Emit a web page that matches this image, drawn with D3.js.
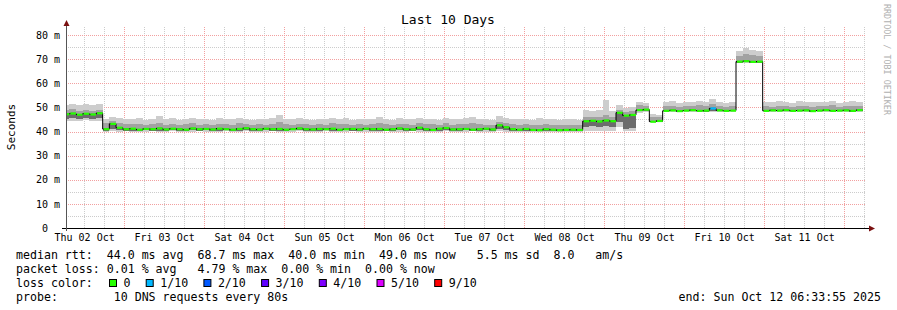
<!DOCTYPE html>
<html>
<head>
<meta charset="utf-8">
<script src="https://cdn.jsdelivr.net/npm/d3@7"></script>
<style>
  body { margin: 0; background: #fff; }
  text { font-family: "DejaVu Sans Mono", monospace; fill: #000; }
</style>
</head>
<body>
<div id="chart"></div>
<script>

// smokeping "Last 10 Days" graph, redrawn with d3

// ---- data ----
const startTime = Date.UTC(2025, 9, 2, 6, 33, 55);
const endTime = Date.UTC(2025, 9, 12, 6, 33, 55);
const bucketHours = 2;          // one value per 2 hours
const firstBucketOffset = -1;   // first bucket starts 1h before the graph

const dayLabels = ["Thu 02 Oct", "Fri 03 Oct", "Sat 04 Oct", "Sun 05 Oct", "Mon 06 Oct",
                   "Tue 07 Oct", "Wed 08 Oct", "Thu 09 Oct", "Fri 10 Oct", "Sat 11 Oct"];
const yTicks = [0, 10, 20, 30, 40, 50, 60, 70, 80];
const yTickLabels = ["0\u00a0\u00a0", "10 m", "20 m", "30 m", "40 m", "50 m", "60 m", "70 m", "80 m"];

// median rtt in ms
const median = [
  47.2, 47.5, 47.0, 47.4, 47.1, 47.6, 41.0, 43.2, 41.6, 41.0,
  41.2, 40.8, 41.1, 41.0, 41.3, 40.9, 41.2, 41.0, 40.8, 41.3,
  41.0, 41.1, 40.9, 41.2, 41.0, 40.8, 41.1, 41.4, 41.0, 40.9,
  41.2, 41.0, 41.1, 40.8, 41.0, 41.3, 41.0, 40.9, 41.1, 41.0,
  41.2, 40.8, 41.0, 41.1, 40.9, 41.2, 41.0, 41.1, 40.8, 41.0,
  41.3, 41.0, 40.9, 41.6, 41.0, 40.7, 41.2, 41.5, 40.9, 41.0,
  41.1, 40.8, 41.0, 41.2, 40.9, 42.6, 41.8, 41.0, 40.8, 41.1,
  40.7, 40.6, 41.0, 40.8, 40.6, 40.7, 40.8, 40.7, 44.3, 44.5,
  44.2, 44.6, 44.3, 47.8, 46.6, 46.9, 48.9, 49.1, 44.1, 44.4,
  48.6, 48.8, 48.5, 48.7, 48.9, 48.6, 48.7, 49.6, 48.8, 48.6,
  48.7, 69.0, 69.2, 68.9, 69.0, 48.6, 48.8, 48.7, 48.9, 48.6,
  48.7, 48.8, 48.5, 48.7, 48.9, 48.6, 48.7, 48.8, 48.6, 48.9
];

// smoke: lowest ping, inner low, inner high, highest ping
const smokeMin = [
  44.2, 44.5, 44.3, 44.6, 44.4, 44.5, 40.0, 40.3, 40.0, 40.1,
  39.9, 40.0, 40.0, 40.2, 39.9, 40.0, 40.1, 40.0, 39.8, 40.0,
  40.1, 40.0, 39.9, 40.0, 40.2, 40.0, 40.0, 40.1, 39.9, 40.0,
  40.0, 40.1, 40.0, 39.8, 40.0, 40.2, 40.0, 39.9, 40.0, 40.1,
  40.0, 39.9, 40.0, 40.1, 40.0, 40.0, 39.8, 40.0, 40.1, 40.0,
  39.9, 40.0, 40.1, 40.0, 40.0, 39.8, 40.0, 40.2, 40.0, 39.9,
  40.0, 40.1, 40.0, 40.0, 39.9, 40.1, 40.0, 40.0, 39.8, 40.0,
  39.9, 39.8, 40.0, 39.9, 39.8, 39.9, 40.0, 39.9, 40.2, 40.3,
  40.2, 40.3, 40.2, 42.0, 40.2, 40.3, 47.8, 47.9, 43.8, 44.0,
  48.0, 48.1, 47.9, 48.0, 48.2, 48.0, 47.9, 48.1, 48.0, 48.0,
  48.1, 68.3, 68.5, 68.2, 68.4, 48.0, 48.1, 47.9, 48.0, 48.2,
  48.0, 47.9, 48.1, 48.0, 48.0, 48.2, 47.9, 48.0, 48.1, 48.0
];
const smokeLo = [
  45.3, 45.6, 45.2, 45.5, 45.3, 45.6, 40.3, 41.0, 40.5, 40.4,
  40.3, 40.4, 40.5, 40.4, 40.3, 40.4, 40.6, 40.4, 40.3, 40.5,
  40.4, 40.5, 40.3, 40.4, 40.6, 40.3, 40.4, 40.5, 40.4, 40.3,
  40.5, 40.4, 40.4, 40.3, 40.5, 40.6, 40.4, 40.3, 40.4, 40.5,
  40.4, 40.3, 40.5, 40.4, 40.4, 40.5, 40.3, 40.4, 40.3, 40.4,
  40.5, 40.4, 40.3, 40.6, 40.4, 40.2, 40.4, 40.6, 40.3, 40.4,
  40.5, 40.3, 40.4, 40.5, 40.3, 41.2, 40.8, 40.4, 40.3, 40.4,
  40.3, 40.2, 40.4, 40.3, 40.2, 40.3, 40.4, 40.3, 42.0, 42.2,
  42.0, 42.1, 42.0, 44.0, 41.2, 41.4, 48.3, 48.4, 44.0, 44.1,
  48.3, 48.4, 48.2, 48.3, 48.4, 48.3, 48.2, 48.5, 48.4, 48.3,
  48.3, 68.6, 68.8, 68.5, 68.6, 48.3, 48.4, 48.3, 48.4, 48.3,
  48.3, 48.4, 48.2, 48.3, 48.4, 48.3, 48.3, 48.4, 48.2, 48.4
];
const smokeHi = [
  48.8, 49.2, 48.6, 49.0, 48.7, 49.1, 43.5, 44.5, 43.6, 43.2,
  43.0, 43.3, 42.8, 43.1, 43.6, 42.9, 43.2, 42.8, 43.0, 43.4,
  42.9, 43.1, 42.8, 43.3, 43.0, 42.9, 43.4, 43.1, 42.8, 43.2,
  42.9, 43.2, 43.8, 43.0, 42.9, 43.3, 43.1, 42.8, 43.2, 42.9,
  43.5, 43.0, 43.2, 42.8, 43.1, 42.9, 43.2, 43.7, 43.0, 42.8,
  43.2, 43.1, 42.9, 43.5, 43.0, 43.2, 42.8, 43.4, 42.9, 43.1,
  43.2, 43.6, 43.1, 42.9, 42.8, 44.0, 43.5, 43.0, 42.9, 43.1,
  42.8, 42.6, 43.0, 42.8, 42.5, 42.7, 42.8, 42.6, 46.0, 46.2,
  45.9, 47.0, 46.1, 49.0, 48.2, 48.5, 50.8, 50.6, 46.0, 46.2,
  50.5, 50.7, 50.3, 50.6, 50.4, 50.8, 50.5, 51.5, 50.6, 50.3,
  50.4, 71.5, 72.0, 71.6, 71.2, 50.5, 50.3, 50.7, 50.4, 50.2,
  50.6, 50.5, 50.3, 50.6, 50.4, 50.8, 50.2, 50.5, 50.7, 50.6
];
const smokeMax = [
  51.0, 51.5, 50.8, 51.2, 50.9, 51.3, 45.2, 46.0, 45.4, 45.3,
  45.0, 45.6, 44.8, 45.2, 46.5, 45.0, 45.4, 44.9, 45.3, 45.8,
  45.0, 45.2, 44.9, 45.5, 45.1, 45.0, 45.6, 45.2, 44.8, 45.3,
  45.0, 45.4, 46.8, 45.1, 45.0, 45.5, 45.2, 44.9, 45.3, 45.0,
  45.7, 45.1, 45.4, 44.8, 45.2, 45.0, 45.3, 46.0, 45.1, 44.9,
  45.4, 45.2, 45.0, 45.6, 45.1, 45.3, 44.8, 45.5, 45.0, 45.2,
  45.4, 45.9, 45.2, 45.0, 44.8, 46.3, 45.6, 45.1, 45.0, 45.2,
  44.9, 45.4, 45.0, 45.2, 44.8, 45.1, 45.0, 44.9, 48.8, 48.5,
  48.9, 53.0, 48.6, 51.0, 49.8, 50.0, 52.2, 52.0, 47.2, 47.0,
  52.3, 52.6, 52.0, 52.4, 52.1, 52.5, 52.2, 53.5, 52.3, 52.0,
  52.4, 73.5, 74.5, 73.8, 73.2, 52.4, 52.1, 52.6, 52.2, 52.0,
  52.5, 52.3, 52.1, 52.4, 52.2, 52.6, 52.0, 52.3, 52.5, 52.4
];
// lost pings per bucket (index into lossColors)
const loss = [
  0, 0, 0, 0, 0, 0, 0, 0, 0, 0,  0, 0, 0, 0, 0, 0, 0, 0, 0, 0,
  0, 0, 0, 0, 0, 0, 0, 0, 0, 0,  0, 0, 0, 0, 0, 0, 0, 0, 0, 0,
  0, 0, 0, 0, 0, 0, 0, 0, 0, 0,  0, 0, 0, 0, 0, 0, 0, 0, 0, 0,
  0, 0, 0, 0, 0, 0, 0, 0, 0, 0,  0, 0, 0, 0, 0, 0, 0, 0, 0, 0,
  0, 0, 0, 0, 0, 0, 0, 0, 0, 0,  0, 0, 0, 0, 0, 0, 0, 1, 0, 0,
  0, 0, 0, 0, 0, 0, 0, 0, 0, 0,  0, 0, 0, 0, 0, 0, 0, 0, 0, 0
];

const lossLabels = ["0", "1/10", "2/10", "3/10", "4/10", "5/10", "9/10"];
const lossColors = ["#26ff00", "#00b8ff", "#0059ff", "#5e00ff", "#7e00ff", "#dd00ff", "#ff0000"];

const legendLines = [
  "median rtt:  44.0 ms avg  68.7 ms max  40.0 ms min  49.0 ms now   5.5 ms sd  8.0   am/s",
  "packet loss: 0.01 % avg   4.79 % max  0.00 % min  0.00 % now",
  "loss color:",
  "probe:        10 DNS requests every 80s"
];
const endLabel = "end: Sun Oct 12 06:33:55 2025";

// ---- layout ----
const width = 897;
const height = 310;
const plot = {left: 66, right: 866, top: 27, bottom: 228};
const gridRed = "#f2a0a0";
const gridGray = "#cccccc";
const arrowColor = "#7a1010";

const svg = d3.select("#chart")
  .append("svg")
  .attr("width", width)
  .attr("height", height);

const x = d3.scaleUtc()
  .domain([new Date(startTime), new Date(endTime)])
  .range([plot.left, plot.right]);

const y = d3.scaleLinear()
  .domain([0, 80])
  .range([plot.bottom, 35]);

// buckets
const buckets = median.map((m, i) => {
  const t0 = d3.utcHour.offset(new Date(startTime), firstBucketOffset + i * bucketHours);
  return {
    t0: t0,
    t1: d3.utcHour.offset(t0, bucketHours),
    median: m,
    min: smokeMin[i],
    lo: smokeLo[i],
    hi: smokeHi[i],
    max: smokeMax[i],
    loss: loss[i]
  };
});

// ---- grid ----
const grid = svg.append("g").attr("stroke-width", 1).attr("stroke-dasharray", "1,1");

const minorY = d3.range(5, 85, 10);
grid.selectAll(".gy")
  .data(minorY)
  .enter().append("line")
  .attr("x1", plot.left).attr("x2", plot.right)
  .attr("y1", d => Math.round(y(d)) + 0.5).attr("y2", d => Math.round(y(d)) + 0.5)
  .attr("stroke", gridGray);

const sixHours = d3.utcHour.every(6).range(new Date(startTime), new Date(endTime))
  .filter(d => d.getUTCHours() !== 0);
grid.selectAll(".gx")
  .data(sixHours)
  .enter().append("line")
  .attr("x1", d => Math.round(x(d)) + 0.5).attr("x2", d => Math.round(x(d)) + 0.5)
  .attr("y1", plot.top).attr("y2", plot.bottom)
  .attr("stroke", gridGray);

grid.selectAll(".my")
  .data(yTicks.slice(1))
  .enter().append("line")
  .attr("x1", plot.left).attr("x2", plot.right)
  .attr("y1", d => Math.round(y(d)) + 0.5).attr("y2", d => Math.round(y(d)) + 0.5)
  .attr("stroke", gridRed);

const midnights = d3.utcDay.range(new Date(startTime), new Date(endTime));
grid.selectAll(".mx")
  .data(midnights)
  .enter().append("line")
  .attr("x1", d => Math.round(x(d)) + 0.5).attr("x2", d => Math.round(x(d)) + 0.5)
  .attr("y1", plot.top).attr("y2", plot.bottom)
  .attr("stroke", gridRed);

// ---- smoke + median ----
svg.append("clipPath").attr("id", "clip")
  .append("rect")
  .attr("x", plot.left + 1).attr("y", 0)
  .attr("width", plot.right - plot.left).attr("height", plot.bottom);

const data = svg.append("g").attr("clip-path", "url(#clip)");

function band(cls, lowKey, highKey, color) {
  data.selectAll("." + cls)
    .data(buckets)
    .enter().append("rect")
    .attr("class", cls)
    .attr("x", d => x(d.t0))
    .attr("width", d => x(d.t1) - x(d.t0))
    .attr("y", d => y(d[highKey]))
    .attr("height", d => y(d[lowKey]) - y(d[highKey]))
    .attr("fill", color)
    .attr("shape-rendering", "crispEdges");
}
band("smoke-outer", "min", "max", "#cdcdcd");
band("smoke-inner", "lo", "hi", "#a2a2a2");
band("smoke-core", "lo", "median", "#6c6c6c");

// black connecting line of the median
const last = buckets[buckets.length - 1];
const medianLine = d3.line()
  .x(d => x(d.t0))
  .y(d => y(d.median))
  .curve(d3.curveStepAfter);
data.append("path")
  .datum(buckets.concat([{t0: last.t1, median: last.median}]))
  .attr("d", medianLine)
  .attr("fill", "none")
  .attr("stroke", "#000")
  .attr("stroke-width", 1);

// loss coloured median segments
data.selectAll(".med")
  .data(buckets)
  .enter().append("rect")
  .attr("class", "med")
  .attr("x", d => x(d.t0) + 1)
  .attr("width", d => x(d.t1) - x(d.t0) - 1)
  .attr("y", d => y(d.median) - 1)
  .attr("height", 2.2)
  .attr("fill", d => lossColors[d.loss]);

// ---- axes ----
// day labels sit at noon of each day
const noons = d3.utcDay.range(d3.utcDay.floor(new Date(startTime)), new Date(endTime))
  .map(d => d3.utcHour.offset(d, 12))
  .filter(d => d < new Date(endTime));

const xAxis = svg.append("g")
  .attr("transform", `translate(0,${plot.bottom})`)
  .call(d3.axisBottom(x)
    .tickValues(noons)
    .tickFormat((d, i) => dayLabels[i])
    .tickSize(0)
    .tickPadding(6));
xAxis.select(".domain").remove();
xAxis.selectAll("text").attr("font-size", "10px").attr("font-family", "DejaVu Sans Mono, monospace");

const yAxis = svg.append("g")
  .attr("transform", `translate(${plot.left},0)`)
  .call(d3.axisLeft(y)
    .tickValues(yTicks)
    .tickFormat((d, i) => yTickLabels[i])
    .tickSize(0)
    .tickPadding(6));
yAxis.select(".domain").remove();
yAxis.selectAll("text").attr("font-size", "10px").attr("font-family", "DejaVu Sans Mono, monospace")
  .style("white-space", "pre");

// axis lines + arrows
svg.append("line")
  .attr("x1", 62).attr("x2", 870)
  .attr("y1", plot.bottom + 0.5).attr("y2", plot.bottom + 0.5)
  .attr("stroke", "#000");
svg.append("line")
  .attr("x1", plot.left + 0.5).attr("x2", plot.left + 0.5)
  .attr("y1", plot.bottom + 3).attr("y2", 24)
  .attr("stroke", "#555");
svg.append("path")
  .attr("d", `M${plot.left + 0.5},20L${plot.left - 2.5},26L${plot.left + 3.5},26Z`)
  .attr("fill", arrowColor);
svg.append("path")
  .attr("d", `M875,${plot.bottom + 0.5}L869,${plot.bottom - 2.5}L869,${plot.bottom + 3.5}Z`)
  .attr("fill", arrowColor);

// ---- titles ----
svg.append("text")
  .attr("x", 448).attr("y", 24)
  .attr("text-anchor", "middle")
  .attr("font-size", "13px")
  .text("Last 10 Days");

svg.append("text")
  .attr("transform", "translate(15,127) rotate(-90)")
  .attr("text-anchor", "middle")
  .attr("font-size", "11px")
  .text("Seconds");

svg.append("text")
  .attr("transform", "translate(884,4) rotate(90)")
  .attr("font-size", "8.4px")
  .style("fill", "#b0b0b0")
  .text("RRDTOOL / TOBI OETIKER");

// ---- legend ----
const legendFont = 11.6;
const legend = svg.append("g").attr("font-size", legendFont + "px");
legend.selectAll(".ll")
  .data(legendLines)
  .enter().append("text")
  .attr("class", "ll")
  .attr("x", 16)
  .attr("y", (d, i) => 258.5 + i * 14.1)
  .style("white-space", "pre")
  .text(d => d);

legend.append("text")
  .attr("x", 881).attr("y", 258.5 + 3 * 14.1)
  .attr("text-anchor", "end")
  .text(endLabel);

let lx = 109;
const lossItems = lossLabels.map((label, i) => {
  const item = {label: label, color: lossColors[i], x: lx};
  lx += 14.5 + label.length * 7 + 15.2;
  return item;
});
const items = legend.selectAll(".li")
  .data(lossItems)
  .enter().append("g")
  .attr("class", "li");
items.append("rect")
  .attr("x", d => d.x + 0.5).attr("y", 279.5)
  .attr("width", 7).attr("height", 7)
  .attr("fill", d => d.color)
  .attr("stroke", "#000");
items.append("text")
  .attr("x", d => d.x + 14.5)
  .attr("y", 258.5 + 2 * 14.1)
  .text(d => d.label);

</script>
</body>
</html>
